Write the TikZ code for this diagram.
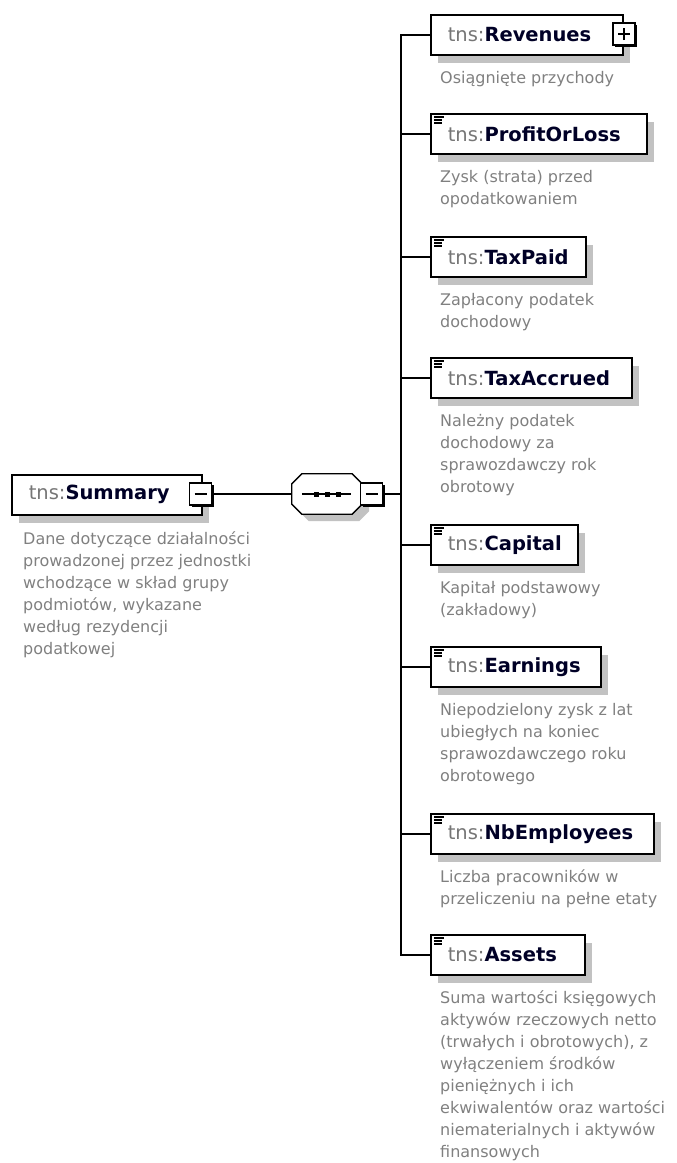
\documentclass[tikz,border=0pt]{standalone}
\usepackage{fontspec}
\setmainfont{DejaVu Sans}
\usetikzlibrary{shadows}

\definecolor{descgray}{RGB}{128,128,128}
\definecolor{tnsgray}{RGB}{118,118,118}
\definecolor{namedark}{RGB}{0,0,38}
\definecolor{shadowgray}{RGB}{194,194,194}

\newcommand{\tns}[1]{{\color{tnsgray}tns:}{\color{namedark}\bfseries #1}}
\newcommand{\descfont}{\fontsize{16}{22}\selectfont}
\newcommand{\namefont}{\fontsize{19.5}{22}\selectfont}
% the little "simple type" mark in the upper left corner of a box
\newcommand{\docmark}[1]{%
  \draw[line width=1.2pt] ([xshift=4pt,yshift=-4pt]#1.north west) -- +(10,0);
  \draw[line width=1.2pt] ([xshift=4pt,yshift=-7pt]#1.north west) -- +(8,0);
  \draw[line width=1.2pt] ([xshift=4pt,yshift=-10pt]#1.north west) -- +(8,0);
}

\begin{document}
\begin{tikzpicture}[x=1pt,y=-1pt,
  elem/.style={draw,line width=1.6pt,fill=white,anchor=north west,
    minimum height=40pt,inner xsep=17pt,inner ysep=0pt,align=left,font=\namefont,
    drop shadow={shadow xshift=7pt,shadow yshift=-8pt,fill=shadowgray,opacity=1}},
  pmbox/.style={draw,line width=1.3pt,fill=white,minimum size=22pt,inner sep=0pt,
    drop shadow={shadow xshift=2pt,shadow yshift=-2pt,fill=black,opacity=1}},
  desc/.style={anchor=base west,align=left,inner sep=0pt,text=descgray,font=\descfont},
  conn/.style={line width=1.6pt}]

\useasboundingbox (0,0) rectangle (677,1163);

% root element
\node[elem,text width=156pt] (sum) at (11,474) {\tns{Summary}};
\node[pmbox] (summ) at (200.5,494) {};
\draw[line width=1.3pt] ([xshift=-6pt]summ.center) -- ([xshift=6pt]summ.center);
\node[desc] (sumd) at (23,654) {Dane dotyczące działalności\\prowadzonej przez jednostki\\wchodzące w skład grupy\\podmiotów, wykazane\\według rezydencji\\podatkowej};

% sequence compositor
\node[minimum width=70pt,minimum height=40pt,inner sep=0pt] (seq) at (327,494) {};
\filldraw[line width=1.3pt,fill=white,
  drop shadow={shadow xshift=7pt,shadow yshift=-7pt,fill=shadowgray,opacity=1}]
  ([xshift=10pt]seq.north west) -- ([xshift=-10pt]seq.north east)
  -- ([yshift=-10pt]seq.north east) -- ([yshift=10pt]seq.south east)
  -- ([xshift=-10pt]seq.south east) -- ([xshift=10pt]seq.south west)
  -- ([yshift=10pt]seq.south west) -- ([yshift=-10pt]seq.north west) -- cycle;
\draw[line width=1.3pt] ([xshift=10pt]seq.west) -- ([xshift=-11pt]seq.east);
\fill ([xshift=-11pt]seq.center) +(-2.5,-2.5) rectangle +(2.5,2.5);
\fill (seq.center) +(-2.5,-2.5) rectangle +(2.5,2.5);
\fill ([xshift=11pt]seq.center) +(-2.5,-2.5) rectangle +(2.5,2.5);
\node[pmbox] (seqm) at (371.5,494) {};
\draw[line width=1.3pt] ([xshift=-6pt]seqm.center) -- ([xshift=6pt]seqm.center);

\coordinate (fork) at (401,494);

% child elements
\node[elem,text width=158pt] (rev) at (430,14) {\tns{Revenues}};
\node[pmbox] (revp) at (624,34) {};
\draw[line width=1.3pt] ([xshift=-6pt]revp.center) -- ([xshift=6pt]revp.center);
\draw[line width=1.3pt] ([yshift=-6pt]revp.center) -- ([yshift=6pt]revp.center);
\node[desc] (revd) at (440,83) {Osiągnięte przychody};

\node[elem,text width=182pt] (pol) at (430,113) {\tns{ProfitOrLoss}};
\docmark{pol}
\node[desc] (pold) at (440,204) {Zysk (strata) przed\\opodatkowaniem};

\node[elem,text width=121pt] (tpd) at (430,236) {\tns{TaxPaid}};
\docmark{tpd}
\node[desc] (tpdd) at (440,327) {Zapłacony podatek\\dochodowy};

\node[elem,text width=167pt] (tac) at (430,357) {\tns{TaxAccrued}};
\docmark{tac}
\node[desc] (tacd) at (440,492) {Należny podatek\\dochodowy za\\sprawozdawczy rok\\obrotowy};

\node[elem,text width=113pt] (cap) at (430,524) {\tns{Capital}};
\docmark{cap}
\node[desc] (capd) at (440,615) {Kapitał podstawowy\\(zakładowy)};

\node[elem,text width=136pt] (ern) at (430,646) {\tns{Earnings}};
\docmark{ern}
\node[desc] (ernd) at (440,781) {Niepodzielony zysk z lat\\ubiegłych na koniec\\sprawozdawczego roku\\obrotowego};

\node[elem,text width=189pt] (nbe) at (430,813) {\tns{NbEmployees}};
\docmark{nbe}
\node[desc] (nbed) at (440,904) {Liczba pracowników w\\przeliczeniu na pełne etaty};

\node[elem,text width=120pt] (ast) at (430,934) {\tns{Assets}};
\docmark{ast}
\node[desc] (astd) at (440,1157) {Suma wartości księgowych\\aktywów rzeczowych netto\\(trwałych i obrotowych), z\\wyłączeniem środków\\pieniężnych i ich\\ekwiwalentów oraz wartości\\niematerialnych i aktywów\\finansowych};

% connectors
\draw[conn] (summ.east) -- (seq.west);
\draw[conn] (seqm.east) -- (fork);
\draw[conn] (fork) |- (rev.west);
\draw[conn] (fork) |- (pol.west);
\draw[conn] (fork) |- (tpd.west);
\draw[conn] (fork) |- (tac.west);
\draw[conn] (fork) |- (cap.west);
\draw[conn] (fork) |- (ern.west);
\draw[conn] (fork) |- (nbe.west);
\draw[conn] (fork) |- (ast.west);

\end{tikzpicture}
\end{document}
